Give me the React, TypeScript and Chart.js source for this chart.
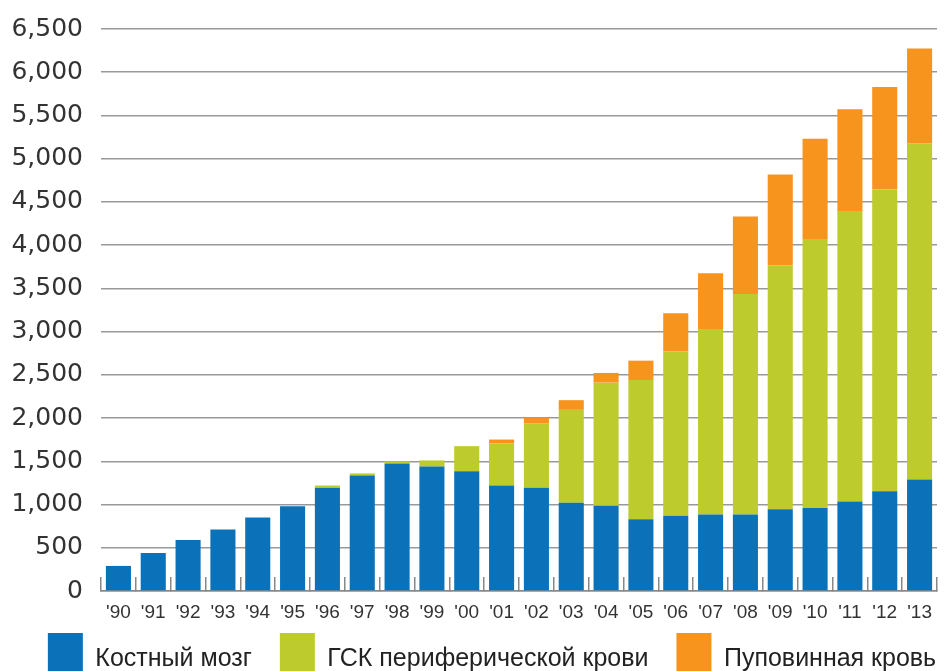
import React, { useEffect, useRef } from "react";
import { Chart, registerables } from "chart.js";

Chart.register(...registerables);

const years = ["'90", "'91", "'92", "'93", "'94", "'95", "'96", "'97", "'98", "'99", "'00", "'01", "'02", "'03", "'04", "'05", "'06", "'07", "'08", "'09", "'10", "'11", "'12", "'13"];
const boneMarrow = [290, 440, 590, 710, 850, 980, 1195, 1335, 1475, 1440, 1385, 1220, 1195, 1020, 985, 830, 870, 885, 885, 945, 960, 1035, 1155, 1290];
const peripheralBlood = [0, 0, 0, 0, 0, 0, 25, 25, 25, 70, 290, 490, 745, 1075, 1425, 1610, 1900, 2145, 2550, 2820, 3110, 3360, 3490, 3890];
const cordBlood = [0, 0, 0, 0, 0, 0, 0, 0, 0, 0, 0, 42, 65, 112, 112, 224, 443, 644, 895, 1053, 1160, 1176, 1183, 1095];
const seriesNames = ["Костный мозг", "ГСК периферической крови", "Пуповинная кровь"];
const yMax = 6500;
const yStep = 500;

export default function App() {
  const ref = useRef<HTMLCanvasElement | null>(null);
  useEffect(() => {
    if (!ref.current) return;
    const chart = new Chart(ref.current, {
      type: "bar",
      data: {
        labels: years,
        datasets: [
          { label: seriesNames[0], data: boneMarrow, backgroundColor: "#0B72BA" },
          { label: seriesNames[1], data: peripheralBlood, backgroundColor: "#BDCB2C" },
          { label: seriesNames[2], data: cordBlood, backgroundColor: "#F7941E" },
        ],
      },
      options: {
        animation: false,
        responsive: false,
        maintainAspectRatio: false,
        layout: { padding: { left: 4, right: 0, top: 29, bottom: 0 } },
        datasets: { bar: { categoryPercentage: 1, barPercentage: 0.72, borderWidth: 0 } },
        plugins: {
          tooltip: { enabled: false },
          legend: {
            position: "bottom",
            align: "center",
            labels: {
              boxWidth: 35,
              boxHeight: 52,
              padding: 28,
              color: "#222",
              font: { family: "'Liberation Sans', Arial, sans-serif", size: 25 },
            },
          },
        },
        scales: {
          x: {
            stacked: true,
            grid: { offset: true, drawOnChartArea: false, drawTicks: true, tickLength: -14, color: "#888", lineWidth: 1.5 },
            border: { display: true, color: "#888", width: 1.5 },
            ticks: {
              autoSkip: false,
              maxRotation: 0,
              mirror: true,
              padding: -33,
              color: "#333",
              font: { family: "'Liberation Sans', Arial, sans-serif", size: 19 },
            },
            afterFit: (s: any) => { s.height = 14; },
          },
          y: {
            stacked: true,
            min: 0,
            max: yMax,
            border: { display: false },
            grid: { drawTicks: false, color: "#999", lineWidth: 1.5 },
            ticks: {
              stepSize: yStep,
              padding: 18,
              color: "#333",
              font: { family: "'DejaVu Sans', sans-serif", size: 25, lineHeight: 0.8 },
              callback: (v: any) => Number(v).toLocaleString("en-US"),
            },
            afterFit: (s: any) => { s.width = 97; },
          },
          yRight: {
            position: "right",
            display: true,
            grid: { display: false, drawTicks: false },
            border: { display: false },
            ticks: { display: false },
            afterFit: (s: any) => { s.width = 43; },
          },
        },
      },
    });
    return () => chart.destroy();
  }, []);
  return (
    <div style={{ position: "fixed", left: 0, top: 0, width: 944, height: 671, overflow: "hidden", background: "#fff" }}>
      <canvas ref={ref} width={980} height={695} style={{ display: "block" }} />
    </div>
  );
}
